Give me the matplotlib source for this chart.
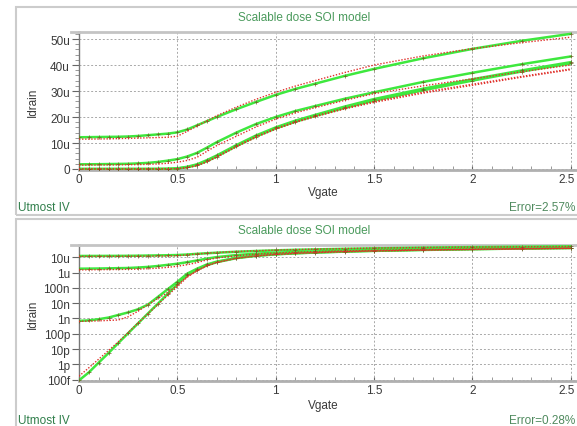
import matplotlib
matplotlib.use('Agg')
import matplotlib.pyplot as plt
import matplotlib.transforms as mtransforms
from matplotlib.patches import Rectangle
from matplotlib.lines import Line2D
from matplotlib.ticker import FixedLocator, MultipleLocator, NullFormatter

plt.rcParams['font.family'] = ['Liberation Sans', 'DejaVu Sans']

# ---------------- data (Vgate in V, Idrain in µA) ----------------
vgate = [0, 0.05, 0.1, 0.15, 0.2, 0.25, 0.3, 0.35, 0.4, 0.45, 0.5, 0.55,
         0.6, 0.65, 0.7, 0.8, 0.9, 1.0, 1.1, 1.2, 1.35, 1.5, 1.75, 2.0, 2.25, 2.5]

green_a = [12.2, 12.25, 12.3, 12.35, 12.4, 12.5, 12.7, 13.0, 13.3, 13.6, 14.1, 15.2,
           16.8, 18.4, 20.0, 23.0, 25.8, 28.5, 30.8, 32.8, 35.8, 38.5, 42.6, 46.2, 49.3, 52.0]
red_a = [11.5, 11.5, 11.55, 11.6, 11.7, 11.8, 11.9, 12.0, 12.1, 12.2, 12.6, 14.5,
         16.5, 18.5, 20.5, 23.8, 26.8, 29.5, 31.9, 34.0, 37.1, 40.0, 43.5, 46.3, 48.6, 50.7]

green_b = [1.8, 1.82, 1.85, 1.9, 1.95, 2.0, 2.15, 2.35, 2.7, 3.2, 3.8, 4.8,
           6.2, 8.2, 10.3, 14.0, 17.3, 20.0, 22.3, 24.2, 27.0, 29.5, 33.5, 37.0, 40.3, 43.3]
red_b = [1.5, 1.52, 1.55, 1.58, 1.6, 1.65, 1.7, 1.8, 1.95, 2.2, 2.6, 3.3,
         4.5, 6.8, 9.0, 12.6, 16.2, 19.2, 21.6, 23.6, 26.4, 29.0, 32.0, 34.7, 37.4, 40.0]

green_c1 = [7e-4, 7.5e-4, 9e-4, 1.15e-3, 1.7e-3, 2.5e-3, 4e-3, 8e-3, 0.025, 0.08, 0.25, 0.85,
            1.8, 3.4, 5.2, 9.2, 12.9, 16.0, 18.6, 20.8, 24.0, 26.9, 30.9, 34.5, 37.9, 41.1]
red_c1 = [6.5e-4, 6.7e-4, 7e-4, 7.5e-4, 8e-4, 1.3e-3, 3e-3, 8e-3, 0.02, 0.05, 0.15, 0.55,
          1.35, 2.9, 4.8, 8.8, 12.5, 15.6, 18.2, 20.4, 23.4, 26.0, 29.6, 32.6, 35.6, 38.5]

green_c2 = [9e-8, 3e-7, 1.3e-6, 5.5e-6, 2.5e-5, 1.1e-4, 4.8e-4, 2.1e-3, 9e-3, 0.04, 0.17, 0.7,
            1.5, 3.0, 4.8, 8.8, 12.5, 15.6, 18.2, 20.4, 23.5, 26.3, 30.3, 34.0, 37.5, 40.6]
red_c2 = [1.7e-7, 6e-7, 2.2e-6, 8e-6, 3e-5, 1.2e-4, 5e-4, 2e-3, 8e-3, 0.032, 0.12, 0.5,
          1.3, 2.7, 4.5, 8.5, 12.2, 15.3, 17.9, 20.1, 23.1, 25.6, 29.2, 32.2, 35.3, 38.2]

green_series = [green_a, green_b, green_c1, green_c2]
red_series = [red_a, red_b, red_c1, red_c2]

x_ticks = [0, 0.5, 1, 1.5, 2, 2.5]
x_labels = ['0', '0.5', '1', '1.5', '2', '2.5']
lin_ticks = [0, 10, 20, 30, 40, 50]
lin_labels = ['0', '10u', '20u', '30u', '40u', '50u']
log_ticks = [1e-13, 1e-12, 1e-11, 1e-10, 1e-9, 1e-8, 1e-7, 1e-6, 1e-5]
log_labels = ['100f', '1p', '10p', '100p', '1n', '10n', '100n', '1u', '10u']

title_text = 'Scalable dose SOI model'
errors = ['Error=2.57%', 'Error=0.28%']

# ---------------- figure ----------------
W, H = 577, 427
fig = plt.figure(figsize=(W / 100, H / 100), dpi=100)


def box(x, y, w, h):
    return [x / W, 1 - (y + h) / H, w / W, h / H]


GREEN = '#3ee83e'
RED = '#e0302a'
MARK = '#6a5a1c'
TXT = '#3a3a3a'
FS = 8.5

panels = [dict(ytop=33, ybot=171, frame=(8, 216), title_y=18, foot_y=208,
               vlabel_y=193, log=False),
          dict(ytop=246, ybot=382, frame=(220, 432), title_y=231, foot_y=421,
               vlabel_y=406, log=True)]

for i, p in enumerate(panels):
    # outer frame
    fig.patches.append(Rectangle((16 / W, 1 - p['frame'][1] / H), (610 - 16) / W,
                                 (p['frame'][1] - p['frame'][0]) / H,
                                 transform=fig.transFigure, fill=False,
                                 ec='#cccccc', lw=1.5, zorder=0))
    # grey top rule extending left of the plot area
    fig.lines.append(Line2D([71 / W, 79 / W], [1 - p['ytop'] / H] * 2,
                            transform=fig.transFigure, color='#c4c4c4', lw=2))
    ax = fig.add_axes(box(79, p['ytop'], 2.56 * 196.7, p['ybot'] - p['ytop']))
    scale = 1e-6
    for g, r in zip(green_series, red_series):
        gv = [v * scale for v in g]
        rv = [v * scale for v in r]
        ax.plot(vgate, gv, color=GREEN, lw=1.8, solid_capstyle='round', zorder=3)
        ax.plot(vgate, gv, ls='none', marker='+', ms=2.5, mew=0.6, color=MARK,
                alpha=0.8, zorder=4)
        ax.plot(vgate, rv, color=RED, lw=1.0, ls=(0, (1, 1.2)), zorder=5)
    ax.set_xlim(0, 2.56)
    if p['log']:
        ax.set_yscale('log')
        ax.set_ylim(8.2e-14, 6.37e-5)
        ax.yaxis.set_major_locator(FixedLocator(log_ticks))
        ax.set_yticklabels(log_labels)
        ax.yaxis.set_minor_locator(FixedLocator([]))
    else:
        ax.set_ylim(-0.385e-6, 52.7e-6)
        ax.yaxis.set_major_locator(FixedLocator([t * 1e-6 for t in lin_ticks]))
        ax.set_yticklabels(lin_labels)
        ax.yaxis.set_minor_locator(MultipleLocator(2e-6))
    ax.xaxis.set_major_locator(FixedLocator(x_ticks))
    ax.set_xticklabels(x_labels)
    ax.xaxis.set_minor_locator(MultipleLocator(0.1))
    ax.yaxis.set_minor_formatter(NullFormatter())
    ax.grid(True, which='major', color='#a8a8a8', ls=(0, (2, 2)), lw=0.7)
    ax.set_axisbelow(True)
    ax.spines['right'].set_visible(False)
    ax.spines['top'].set_color('#c4c4c4')
    ax.spines['top'].set_linewidth(2)
    ax.spines['bottom'].set_color('#b0b0b0')
    ax.spines['bottom'].set_linewidth(2)
    ax.spines['left'].set_color('#777777')
    ax.spines['left'].set_linewidth(1)
    ax.tick_params(axis='both', which='major', labelsize=FS, colors='#666666',
                   labelcolor=TXT, length=5, width=0.8, pad=1.5, direction='out')
    ax.tick_params(axis='both', which='minor', colors='#888888', length=3,
                   width=0.6, direction='out')
    ax.tick_params(axis='x', which='both', direction='in', length=3, pad=2)
    # nudge the last x tick label so it stays inside the figure
    last = ax.get_xticklabels()[-1]
    last.set_transform(last.get_transform() +
                       mtransforms.ScaledTranslation(-4 / 100, 0, fig.dpi_scale_trans))

    fig.text(304 / W, 1 - p['title_y'] / H, title_text, ha='center', va='center',
             color='#4a9a5c', fontsize=FS)
    fig.text(18 / W, 1 - p['foot_y'] / H, 'Utmost IV', ha='left', va='center',
             color='#2f7e4a', fontsize=FS)
    fig.text(575 / W, 1 - p['foot_y'] / H, errors[i], ha='right', va='center',
             color='#4f8a5e', fontsize=FS)
    fig.text(33 / W, 1 - (p['ytop'] + p['ybot']) / 2 / H, 'Idrain', rotation=90,
             ha='center', va='center', color=TXT, fontsize=FS)
    fig.text(323 / W, 1 - p['vlabel_y'] / H, 'Vgate', ha='center', va='center',
             color=TXT, fontsize=FS)

fig.savefig('out.png', dpi=100)
